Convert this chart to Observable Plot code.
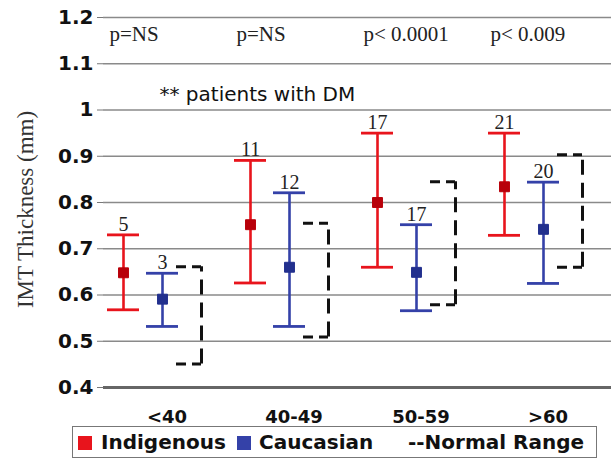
<!DOCTYPE html>
<html>
<head>
<meta charset="utf-8">
<script src="https://cdn.jsdelivr.net/npm/d3@7"></script>
<script src="https://cdn.jsdelivr.net/npm/@observablehq/plot@0.6"></script>
<style>
  html, body { margin: 0; padding: 0; background: #fff; }
  #wrap { position: relative; width: 614px; height: 465px; }
  #legend { position: absolute; left: 72px; top: 426px; width: 523px; height: 30px; border: 1px solid #777;
            font-family: "DejaVu Sans", sans-serif; font-weight: bold; font-size: 20px; color: #111; }
  #legend span { position: absolute; top: 3px; line-height: 24px; white-space: nowrap; }
  #legend i { position: absolute; top: 9px; width: 14px; height: 14px; }
</style>
</head>
<body>
<div id="wrap">
  <div id="chart"></div>
  <div id="legend"></div>
</div>
<script>
const categories = ["<40", "40-49", "50-59", ">60"];
const indigMean = [0.648, 0.752, 0.800, 0.834];
const indigLow  = [0.568, 0.626, 0.660, 0.729];
const indigHigh = [0.730, 0.891, 0.950, 0.950];
const indigN    = [5, 11, 17, 21];
const caucMean  = [0.591, 0.660, 0.649, 0.742];
const caucLow   = [0.532, 0.532, 0.566, 0.625];
const caucHigh  = [0.647, 0.821, 0.752, 0.844];
const caucN     = [3, 12, 17, 20];
const normLow   = [0.451, 0.509, 0.579, 0.660];
const normHigh  = [0.661, 0.755, 0.845, 0.903];
const pValues   = ["p=NS", "p=NS", "p< 0.0001", "p< 0.009"];
const yTicks    = [0.4, 0.5, 0.6, 0.7, 0.8, 0.9, 1.0, 1.1, 1.2];
const seriesNames = ["Indigenous", "Caucasian", "Normal"];
const legendItems = ["Indigenous", "Caucasian", "--Normal Range"];
const note = "** patients with DM";
const yTitle = "IMT Thickness (mm)";

const RED = "#e8141c", RED_D = "#b8000a", BLUE = "#3441a8", BLUE_D = "#22308e";

const groups = [];
categories.forEach((c, i) => {
  groups.push({cat: c, series: "Indigenous", mean: indigMean[i], low: indigLow[i], high: indigHigh[i], n: indigN[i]});
  groups.push({cat: c, series: "Caucasian", mean: caucMean[i], low: caucLow[i], high: caucHigh[i], n: caucN[i]});
});
const normals = categories.map((c, i) => ({cat: c, series: "Normal", low: normLow[i], high: normHigh[i]}));
const pRows = categories.map((c, i) => ({cat: c, series: "Indigenous", text: pValues[i]}));

const colorOf = d => d.series === "Indigenous" ? RED : BLUE;
const darkOf = d => d.series === "Indigenous" ? RED_D : BLUE_D;

const chart = Plot.plot({
  width: 614,
  height: 424,
  marginLeft: 101,
  marginRight: 2,
  marginTop: 17,
  marginBottom: 37,
  style: {background: "#fff", overflow: "visible"},
  fx: {domain: categories, padding: 0, label: null},
  x: {domain: seriesNames, type: "point", padding: 0.617, align: 0.4, axis: null},
  y: {domain: [0.4, 1.2], axis: null},
  marks: [
    Plot.gridY(yTicks, {stroke: "#8a8a8a", strokeOpacity: 1, strokeWidth: 1.3}),
    Plot.ruleY([0.4], {stroke: "#666", strokeWidth: 3}),
    Plot.axisY(yTicks, {anchor: "left", line: true, stroke: "#777", fill: "#111", tickSize: 6, tickPadding: 4,
      tickFormat: d => d3.format("")(+d.toFixed(1)), label: null,
      fontFamily: "DejaVu Sans", fontWeight: "bold", fontSize: 20}),
    Plot.axisFx({anchor: "bottom", tickSize: 0, tickPadding: 23, label: null,
      fontFamily: "DejaVu Sans", fontWeight: "bold", fontSize: 18, fill: "#111"}),
    // normal range brackets
    Plot.ruleX(normals, {fx: "cat", x: "series", y1: "low", y2: "high", stroke: "#111", strokeWidth: 3, strokeDasharray: "15,8"}),
    Plot.ruleY(normals, {fx: "cat", x1: "series", x2: "series", y: "high", insetLeft: -25, stroke: "#111", strokeWidth: 3, strokeDasharray: "10,6"}),
    Plot.ruleY(normals, {fx: "cat", x1: "series", x2: "series", y: "low", insetLeft: -25, stroke: "#111", strokeWidth: 3, strokeDasharray: "10,6"}),
    // error bars
    Plot.ruleX(groups, {fx: "cat", x: "series", y1: "low", y2: "high", stroke: colorOf, strokeWidth: 2.6}),
    Plot.ruleY(groups, {fx: "cat", x1: "series", x2: "series", y: "high", insetLeft: -16, insetRight: -16, stroke: colorOf, strokeWidth: 2.8}),
    Plot.ruleY(groups, {fx: "cat", x1: "series", x2: "series", y: "low", insetLeft: -16, insetRight: -16, stroke: colorOf, strokeWidth: 2.8}),
    Plot.dot(groups, {fx: "cat", x: "series", y: "mean", symbol: "square", r: 5.6, fill: darkOf, stroke: darkOf, strokeWidth: 1}),
    Plot.text(groups, {fx: "cat", x: "series", y: "high", text: d => String(d.n), dy: -4, lineAnchor: "bottom",
      fontFamily: "Liberation Serif", fontSize: 20, fill: "#222"}),
    // p-values
    Plot.text(pRows, {fx: "cat", x: "series", y: () => 1.164, text: "text", textAnchor: "start", dx: -14, lineAnchor: "middle",
      fontFamily: "Liberation Serif", fontSize: 21, fill: "#222"}),
    // note
    Plot.text([{cat: categories[0], series: "Caucasian", text: note}], {fx: "cat", x: "series", y: () => 1.034, text: "text",
      textAnchor: "start", dx: -3, lineAnchor: "middle", fontFamily: "DejaVu Sans", fontSize: 20, fill: "#111"}),
    // y title
    Plot.text([{cat: categories[0], text: yTitle}], {fx: "cat", frameAnchor: "left", text: "text", rotate: -90,
      textAnchor: "middle", lineAnchor: "middle", dx: -78, dy: 7, fontFamily: "Liberation Serif", fontSize: 23, fill: "#333"})
  ]
});
document.getElementById("chart").appendChild(chart);

// legend
const legend = document.getElementById("legend");
const legendLayout = [
  {sw: RED, swLeft: 5, textLeft: 28, text: legendItems[0]},
  {sw: BLUE, swLeft: 164, textLeft: 186, text: legendItems[1]},
  {sw: null, textLeft: 335, text: legendItems[2]}
];
legendLayout.forEach(it => {
  if (it.sw) {
    const s = document.createElement("i");
    s.style.left = it.swLeft + "px";
    s.style.background = it.sw;
    legend.appendChild(s);
  }
  const t = document.createElement("span");
  t.style.left = it.textLeft + "px";
  t.textContent = it.text;
  legend.appendChild(t);
});
</script>
</body>
</html>
